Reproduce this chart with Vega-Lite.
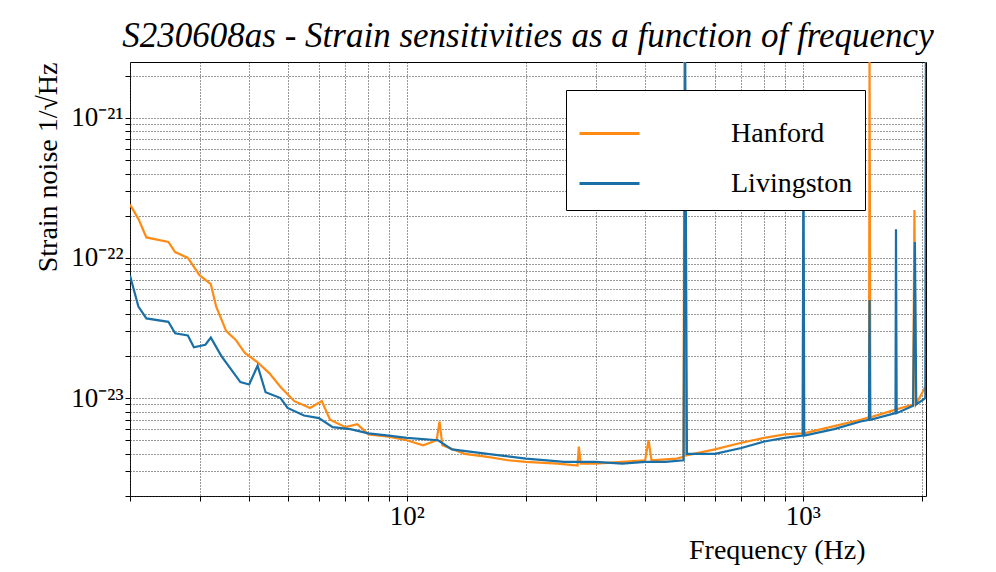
{
  "$schema": "https://vega.github.io/schema/vega-lite/v6.json",
  "width": 796,
  "height": 434,
  "autosize": {"type": "none"},
  "padding": {"left": 130, "top": 62, "right": 70, "bottom": 76},
  "background": "white",
  "title": {"text": "S230608as - Strain sensitivities as a function of frequency", "font": "Liberation Serif", "fontSize": 35, "fontStyle": "italic", "fontWeight": "normal", "color": "black", "offset": 8},
  "data": {"values": [
    {"f": 20, "s": 2.4e-22, "d": "Hanford"}, {"f": 21, "s": 1.9e-22, "d": "Hanford"}, {"f": 22, "s": 1.4e-22, "d": "Hanford"}, {"f": 25, "s": 1.3e-22, "d": "Hanford"}, {"f": 26, "s": 1.1e-22, "d": "Hanford"}, {"f": 28, "s": 1.0e-22, "d": "Hanford"}, {"f": 30, "s": 7.5e-23, "d": "Hanford"}, {"f": 32, "s": 6.5e-23, "d": "Hanford"}, {"f": 33, "s": 4.5e-23, "d": "Hanford"}, {"f": 35, "s": 3.0e-23, "d": "Hanford"}, {"f": 37, "s": 2.6e-23, "d": "Hanford"}, {"f": 39, "s": 2.1e-23, "d": "Hanford"}, {"f": 42, "s": 1.8e-23, "d": "Hanford"}, {"f": 45, "s": 1.5e-23, "d": "Hanford"}, {"f": 48, "s": 1.2e-23, "d": "Hanford"}, {"f": 52, "s": 9.5e-24, "d": "Hanford"}, {"f": 57, "s": 8.5e-24, "d": "Hanford"}, {"f": 61, "s": 9.5e-24, "d": "Hanford"}, {"f": 64, "s": 7e-24, "d": "Hanford"}, {"f": 70, "s": 6.2e-24, "d": "Hanford"}, {"f": 75, "s": 6.5e-24, "d": "Hanford"}, {"f": 80, "s": 5.5e-24, "d": "Hanford"}, {"f": 90, "s": 5.3e-24, "d": "Hanford"}, {"f": 100, "s": 5e-24, "d": "Hanford"}, {"f": 110, "s": 4.6e-24, "d": "Hanford"}, {"f": 119, "s": 5e-24, "d": "Hanford"}, {"f": 121, "s": 6.8e-24, "d": "Hanford"}, {"f": 123, "s": 4.6e-24, "d": "Hanford"}, {"f": 140, "s": 4e-24, "d": "Hanford"}, {"f": 160, "s": 3.8e-24, "d": "Hanford"}, {"f": 180, "s": 3.6e-24, "d": "Hanford"}, {"f": 200, "s": 3.5e-24, "d": "Hanford"}, {"f": 240, "s": 3.4e-24, "d": "Hanford"}, {"f": 270, "s": 3.3e-24, "d": "Hanford"}, {"f": 272, "s": 4.5e-24, "d": "Hanford"}, {"f": 275, "s": 3.4e-24, "d": "Hanford"}, {"f": 300, "s": 3.4e-24, "d": "Hanford"}, {"f": 350, "s": 3.5e-24, "d": "Hanford"}, {"f": 400, "s": 3.6e-24, "d": "Hanford"}, {"f": 408, "s": 5e-24, "d": "Hanford"}, {"f": 415, "s": 3.6e-24, "d": "Hanford"}, {"f": 480, "s": 3.7e-24, "d": "Hanford"}, {"f": 500, "s": 3.8e-24, "d": "Hanford"}, {"f": 503, "s": 1e-20, "d": "Hanford"}, {"f": 508, "s": 3.9e-24, "d": "Hanford"}, {"f": 600, "s": 4.3e-24, "d": "Hanford"}, {"f": 700, "s": 4.8e-24, "d": "Hanford"}, {"f": 800, "s": 5.2e-24, "d": "Hanford"}, {"f": 900, "s": 5.5e-24, "d": "Hanford"}, {"f": 1000, "s": 5.6e-24, "d": "Hanford"}, {"f": 1003, "s": 1e-22, "d": "Hanford"}, {"f": 1007, "s": 5.6e-24, "d": "Hanford"}, {"f": 1200, "s": 6.3e-24, "d": "Hanford"}, {"f": 1400, "s": 7e-24, "d": "Hanford"}, {"f": 1470, "s": 7.3e-24, "d": "Hanford"}, {"f": 1475, "s": 3e-21, "d": "Hanford"}, {"f": 1482, "s": 7.3e-24, "d": "Hanford"}, {"f": 1700, "s": 8.2e-24, "d": "Hanford"}, {"f": 1900, "s": 9e-24, "d": "Hanford"}, {"f": 1915, "s": 2.2e-22, "d": "Hanford"}, {"f": 1930, "s": 9e-24, "d": "Hanford"}, {"f": 2040, "s": 1.2e-23, "d": "Hanford"},
    {"f": 20, "s": 7.5e-23, "d": "Livingston"}, {"f": 21, "s": 4.5e-23, "d": "Livingston"}, {"f": 22, "s": 3.7e-23, "d": "Livingston"}, {"f": 25, "s": 3.5e-23, "d": "Livingston"}, {"f": 26, "s": 2.9e-23, "d": "Livingston"}, {"f": 28, "s": 2.8e-23, "d": "Livingston"}, {"f": 29, "s": 2.3e-23, "d": "Livingston"}, {"f": 31, "s": 2.4e-23, "d": "Livingston"}, {"f": 32, "s": 2.7e-23, "d": "Livingston"}, {"f": 34, "s": 2.0e-23, "d": "Livingston"}, {"f": 36, "s": 1.6e-23, "d": "Livingston"}, {"f": 38, "s": 1.3e-23, "d": "Livingston"}, {"f": 40, "s": 1.25e-23, "d": "Livingston"}, {"f": 42, "s": 1.7e-23, "d": "Livingston"}, {"f": 44, "s": 1.1e-23, "d": "Livingston"}, {"f": 48, "s": 1.0e-23, "d": "Livingston"}, {"f": 50, "s": 8.5e-24, "d": "Livingston"}, {"f": 55, "s": 7.5e-24, "d": "Livingston"}, {"f": 60, "s": 7.2e-24, "d": "Livingston"}, {"f": 65, "s": 6.2e-24, "d": "Livingston"}, {"f": 72, "s": 6e-24, "d": "Livingston"}, {"f": 80, "s": 5.6e-24, "d": "Livingston"}, {"f": 90, "s": 5.4e-24, "d": "Livingston"}, {"f": 100, "s": 5.2e-24, "d": "Livingston"}, {"f": 120, "s": 5e-24, "d": "Livingston"}, {"f": 130, "s": 4.3e-24, "d": "Livingston"}, {"f": 160, "s": 4e-24, "d": "Livingston"}, {"f": 200, "s": 3.7e-24, "d": "Livingston"}, {"f": 250, "s": 3.5e-24, "d": "Livingston"}, {"f": 300, "s": 3.5e-24, "d": "Livingston"}, {"f": 350, "s": 3.4e-24, "d": "Livingston"}, {"f": 400, "s": 3.5e-24, "d": "Livingston"}, {"f": 450, "s": 3.5e-24, "d": "Livingston"}, {"f": 500, "s": 3.6e-24, "d": "Livingston"}, {"f": 505, "s": 2.5e-21, "d": "Livingston"}, {"f": 510, "s": 4e-24, "d": "Livingston"}, {"f": 600, "s": 4e-24, "d": "Livingston"}, {"f": 700, "s": 4.4e-24, "d": "Livingston"}, {"f": 800, "s": 4.9e-24, "d": "Livingston"}, {"f": 900, "s": 5.2e-24, "d": "Livingston"}, {"f": 1000, "s": 5.4e-24, "d": "Livingston"}, {"f": 1004, "s": 1e-21, "d": "Livingston"}, {"f": 1009, "s": 5.4e-24, "d": "Livingston"}, {"f": 1200, "s": 6e-24, "d": "Livingston"}, {"f": 1400, "s": 6.8e-24, "d": "Livingston"}, {"f": 1470, "s": 7e-24, "d": "Livingston"}, {"f": 1475, "s": 5e-23, "d": "Livingston"}, {"f": 1480, "s": 7e-24, "d": "Livingston"}, {"f": 1715, "s": 7.8e-24, "d": "Livingston"}, {"f": 1720, "s": 1.6e-22, "d": "Livingston"}, {"f": 1727, "s": 7.8e-24, "d": "Livingston"}, {"f": 1900, "s": 8.8e-24, "d": "Livingston"}, {"f": 1920, "s": 1.3e-22, "d": "Livingston"}, {"f": 1935, "s": 9e-24, "d": "Livingston"}, {"f": 2040, "s": 1e-23, "d": "Livingston"}, {"f": 2046, "s": 2.5e-21, "d": "Livingston"}
  ]},
  "mark": {"type": "line", "clip": true, "strokeWidth": 2.2},
  "encoding": {
    "x": {"field": "f", "type": "quantitative", "scale": {"type": "log", "domain": [20, 2048], "nice": false},
      "axis": {"values": [20, 30, 40, 50, 60, 70, 80, 90, 100, 200, 300, 400, 500, 600, 700, 800, 900, 1000, 2000],
        "labelExpr": "datum.value == 100 ? '10²' : datum.value == 1000 ? '10³' : ''",
        "title": "Frequency (Hz)", "titleAnchor": "end", "titleAlign": "right", "titleX": 735, "titleY": 40, "titleFont": "Liberation Serif", "titleFontSize": 28, "titleFontWeight": "normal", "titleColor": "black",
        "labelFont": "Liberation Serif", "labelFontSize": 27, "labelColor": "black",
        "gridDash": [1, 2], "gridColor": "#333", "domain": false, "tickColor": "black"}},
    "y": {"field": "s", "type": "quantitative", "scale": {"type": "log", "domain": [2e-24, 2.5e-21], "nice": false},
      "axis": {"values": [2e-24, 3e-24, 4e-24, 5e-24, 6e-24, 7e-24, 8e-24, 9e-24, 1e-23, 2e-23, 3e-23, 4e-23, 5e-23, 6e-23, 7e-23, 8e-23, 9e-23, 1e-22, 2e-22, 3e-22, 4e-22, 5e-22, 6e-22, 7e-22, 8e-22, 9e-22, 1e-21, 2e-21],
        "labelExpr": "datum.value == 1e-23 ? '10⁻²³' : datum.value == 1e-22 ? '10⁻²²' : datum.value == 1e-21 ? '10⁻²¹' : ''",
        "title": "Strain noise 1/√Hz", "titleAnchor": "end", "titleFont": "Liberation Serif", "titleFontSize": 28, "titleFontWeight": "normal", "titleColor": "black", "titlePadding": 8,
        "labelFont": "Liberation Serif", "labelFontSize": 27, "labelColor": "black",
        "gridDash": [1, 2], "gridColor": "#333", "domain": false, "tickColor": "black"}},
    "color": {"field": "d", "type": "nominal", "scale": {"domain": ["Hanford", "Livingston"], "range": ["#ff8a14", "#1a6fa6"]},
      "legend": {"title": null, "orient": "none", "legendX": 436, "legendY": 28, "fillColor": "white", "strokeColor": "black", "padding": 12,
        "symbolType": "stroke", "symbolSize": 3600, "symbolStrokeWidth": 3, "labelFont": "Liberation Serif", "labelFontSize": 28, "labelColor": "black", "rowPadding": 4, "labelOffset": 90, "labelLimit": 300}}
  },
  "config": {"view": {"stroke": "black", "strokeWidth": 1}}
}
